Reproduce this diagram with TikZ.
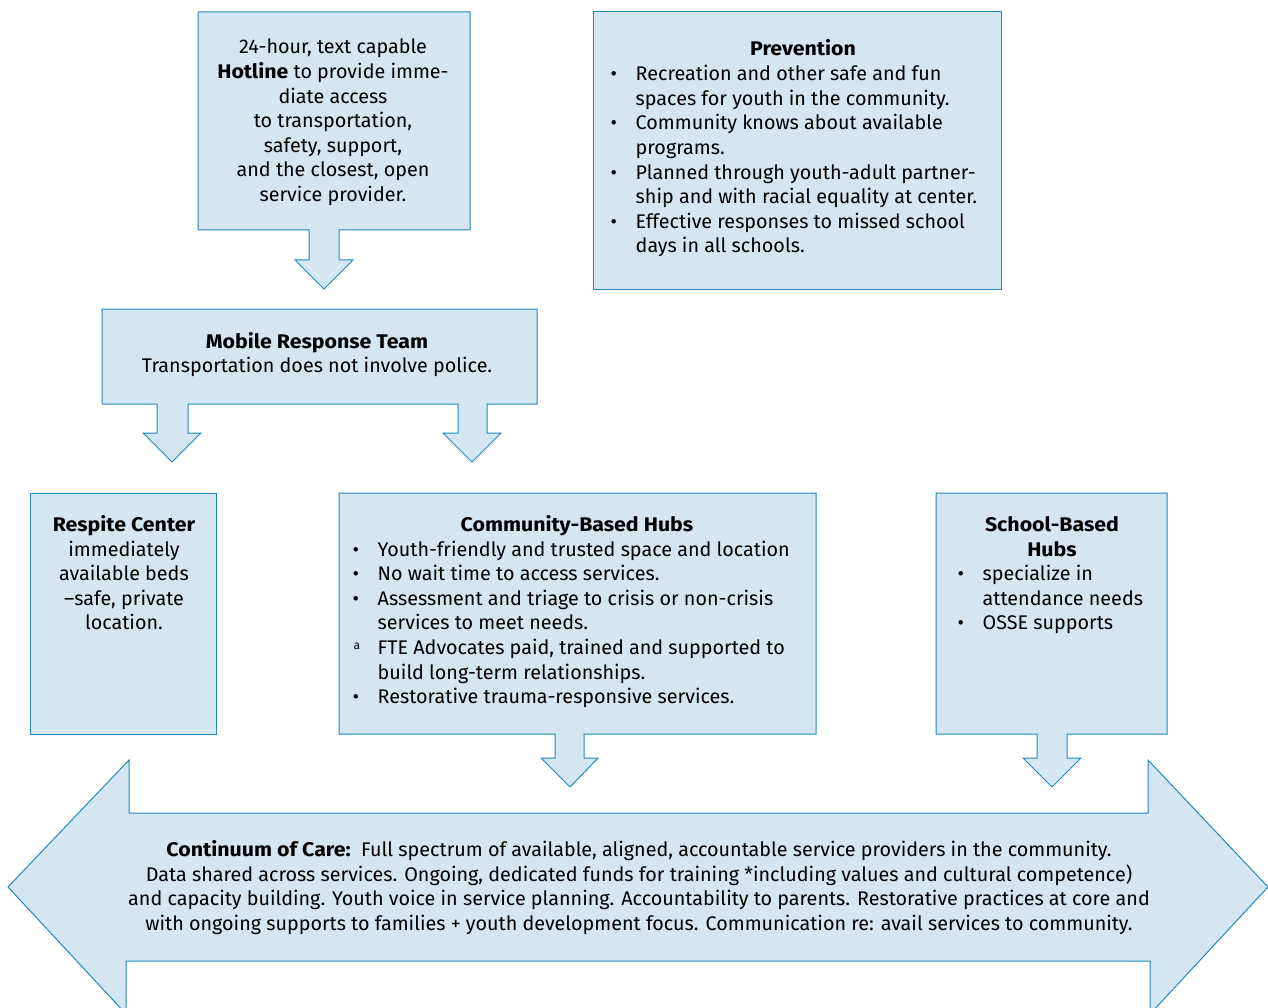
\documentclass[tikz,border=0pt]{standalone}
\usepackage{fontspec}
\setmainfont{Fira Sans}[BoldFeatures={FakeStretch=1.08}]
\definecolor{boxfill}{RGB}{212,230,241}
\definecolor{boxline}{RGB}{33,137,190}
\newcommand\txtsize{\fontsize{19.75pt}{24.6pt}\selectfont}
\newcommand\itm[1]{\par\noindent\hangindent=25pt\hangafter=1\makebox[25pt][l]{•}#1}
\newcommand\itma[1]{\par\noindent\hangindent=25pt\hangafter=1\makebox[25pt][l]{\hspace{1pt}\raisebox{5pt}{\fontsize{12pt}{12pt}\selectfont a}}#1}
\tikzset{
  shapebox/.style={fill=boxfill,draw=boxline,line width=1pt,line join=miter},
  ctext/.style={anchor=base,inner sep=0pt},
  ltext/.style={anchor=base west,inner sep=0pt}
}
\begin{document}
\begin{tikzpicture}[x=1pt,y=-1pt]
\useasboundingbox (0,0) rectangle (1268,1008);
\clip (0,0) rectangle (1268,1008);
% Hotline box with arrow
\draw[shapebox] (198,12) -- (470,12) -- (470,230) -- (339,230) -- (339,260) -- (353,260) -- (324,289) -- (295,260) -- (309,260) -- (309,230) -- (198,230) -- cycle;
% Prevention box
\draw[shapebox] (593,12) -- (1001,12) -- (1001,289) -- (593,289) -- cycle;
% Mobile response team with two arrows
\draw[shapebox] (102,309) -- (537,309) -- (537,404) -- (487,404) -- (487,433) -- (501,433) -- (472,462) -- (443,433) -- (458,433) -- (458,404) -- (188,404) -- (188,433) -- (201,433) -- (172,462) -- (143,433) -- (157,433) -- (157,404) -- (102,404) -- cycle;
% Respite
\draw[shapebox] (30,493) -- (216,493) -- (216,734) -- (30,734) -- cycle;
% Community-based hubs with arrow
\draw[shapebox] (339,493) -- (816,493) -- (816,734) -- (584,734) -- (584,758) -- (598,758) -- (570,787) -- (541,758) -- (555,758) -- (555,734) -- (339,734) -- cycle;
% School-based hubs with arrow
\draw[shapebox] (936,493) -- (1167,493) -- (1167,734) -- (1067,734) -- (1067,758) -- (1081,758) -- (1052,787) -- (1023,758) -- (1037,758) -- (1037,734) -- (936,734) -- cycle;
% Continuum double arrow
\draw[shapebox] (8,887) -- (129,760) -- (129,813) -- (1148,813) -- (1148,760) -- (1268,887) -- (1150,1014) -- (1150,961) -- (126,961) -- (126,1014) -- cycle;

% Texts
\node[ctext] (hotline) at (333,54) {\parbox[t]{260pt}{\centering\txtsize
24-hour, text capable\\
\textbf{Hotline} to provide imme-\\
diate access\\
to transportation,\\
safety, support,\\
and the closest, open\\
service provider.}};

\node[ctext] (prevtitle) at (803,56) {\txtsize\textbf{Prevention}};
\node[ltext] (prevlist) at (610.5,80.7) {\parbox[t]{390pt}{\raggedright\txtsize
\itm{Recreation and other safe and fun\newline spaces for youth in the community.}
\itm{Community knows about available\newline programs.}
\itm{Planned through youth-adult partner-\newline ship and with racial equality at center.}
\itm{Effective responses to missed school\newline days in all schools.}}};

\node[ctext] (mobile) at (317,348) {\parbox[t]{430pt}{\centering\txtsize
\textbf{Mobile Response Team}\\
Transportation does not involve police.}};

\node[ctext] (respite) at (124,531.5) {\parbox[t]{185pt}{\centering\txtsize
\textbf{Respite Center}\\
immediately\\
available beds\\
–safe, private\\
location.}};

\node[ctext] (cbhtitle) at (577,531.5) {\txtsize\textbf{Community-Based Hubs}};
\node[ltext] (cbhlist) at (352.5,556) {\parbox[t]{460pt}{\raggedright\txtsize
\itm{Youth-friendly and trusted space and location}
\itm{No wait time to access services.}
\itm{Assessment and triage to crisis or non-crisis\newline services to meet needs.}
\itma{FTE Advocates paid, trained and supported to\newline build long-term relationships.}
\itm{Restorative trauma-responsive services.}}};

\node[ctext] (sbhtitle) at (1052,531.5) {\parbox[t]{200pt}{\centering\txtsize
\textbf{School-Based}\\
\textbf{Hubs}}};
\node[ltext] (sbhlist) at (957.5,580.6) {\parbox[t]{205pt}{\raggedright\txtsize
\itm{specialize in\newline attendance needs}
\itm{OSSE supports}}};

\node[ctext] (continuum) at (639,856.7) {\parbox[t]{1150pt}{\centering\txtsize
\textbf{Continuum of Care:}\ \ Full spectrum of available, aligned, accountable service providers in the community.\\
Data shared across services. Ongoing, dedicated funds for training *including values and cultural competence)\\
and capacity building. Youth voice in service planning. Accountability to parents. Restorative practices at core and\\
with ongoing supports to families + youth development focus. Communication re: avail services to community.}};
\end{tikzpicture}
\end{document}
